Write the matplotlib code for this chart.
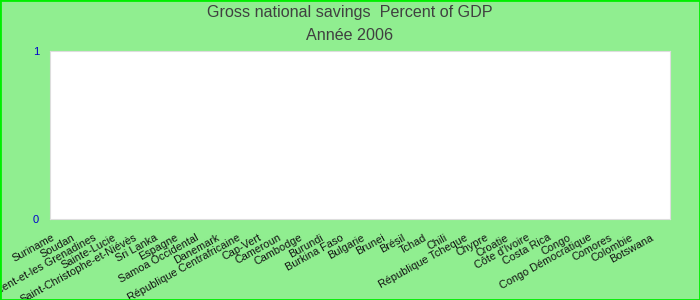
import numpy as np
import matplotlib.pyplot as plt
import matplotlib.transforms as mtransforms
from matplotlib.patches import Rectangle

plt.rcParams['font.family'] = ['Liberation Sans', 'DejaVu Sans']

countries = ['Suriname', 'Soudan', 'Saint-Vincent-et-les Grenadines', 'Sainte-Lucie',
             'Saint-Christophe-et-Niévès', 'Sri Lanka', 'Espagne', 'Samoa Occidental',
             'Danemark', 'République Centrafricaine', 'Cap-Vert', 'Cameroun', 'Cambodge',
             'Burundi', 'Burkina Faso', 'Bulgarie', 'Brunei', 'Brésil', 'Tchad', 'Chili',
             'République Tcheque', 'Chypre', 'Croatie', "Côte d'Ivoire", 'Costa Rica',
             'Congo', 'Congo Démocratique', 'Comores', 'Colombie', 'Botswana']
# no values shown in the chart for 2006
savings = [np.nan] * len(countries)
y_ticks = [0, 1]

fig = plt.figure(figsize=(7, 3), dpi=100, facecolor='#90ee90')
ax = fig.add_axes([50 / 700, 81 / 300, 620 / 700, 168 / 300])
ax.set_facecolor('white')

x = np.arange(len(countries))
ax.bar(x, savings, color='#4572a7')
ax.set_xlim(-0.5, len(countries) - 0.5)
ax.set_ylim(0, 1)
ax.set_yticks(y_ticks)
ax.set_yticklabels([str(v) for v in y_ticks], color='#0000cc', fontsize=8)
ax.set_xticks(x)
ax.set_xticklabels(countries, rotation=29, ha='right', va='top',
                   rotation_mode='anchor', fontsize=7.8, color='#111111')
ax.tick_params(axis='both', length=0, pad=4)
ax.tick_params(axis='y', pad=8)
shift = mtransforms.ScaledTranslation(-9 / 100, -8 / 100, fig.dpi_scale_trans)
for lbl in ax.get_xticklabels():
    lbl.set_transform(lbl.get_transform() + shift)
for s in ax.spines.values():
    s.set_color('#dddddd')
    s.set_linewidth(0.8)

fig.text(0.5, 1 - 13 / 300, 'Gross national savings  Percent of GDP', ha='center',
         va='center', fontsize=11.6, color='#404040')
fig.text(0.5, 1 - 36 / 300, 'Année 2006', ha='center', va='center',
         fontsize=11.6, color='#404040')

fig.patches.append(Rectangle((0, 0), 1, 1, transform=fig.transFigure, fill=False,
                             edgecolor='#00ee00', linewidth=2))

fig.savefig('out.png', dpi=100, facecolor=fig.get_facecolor())
